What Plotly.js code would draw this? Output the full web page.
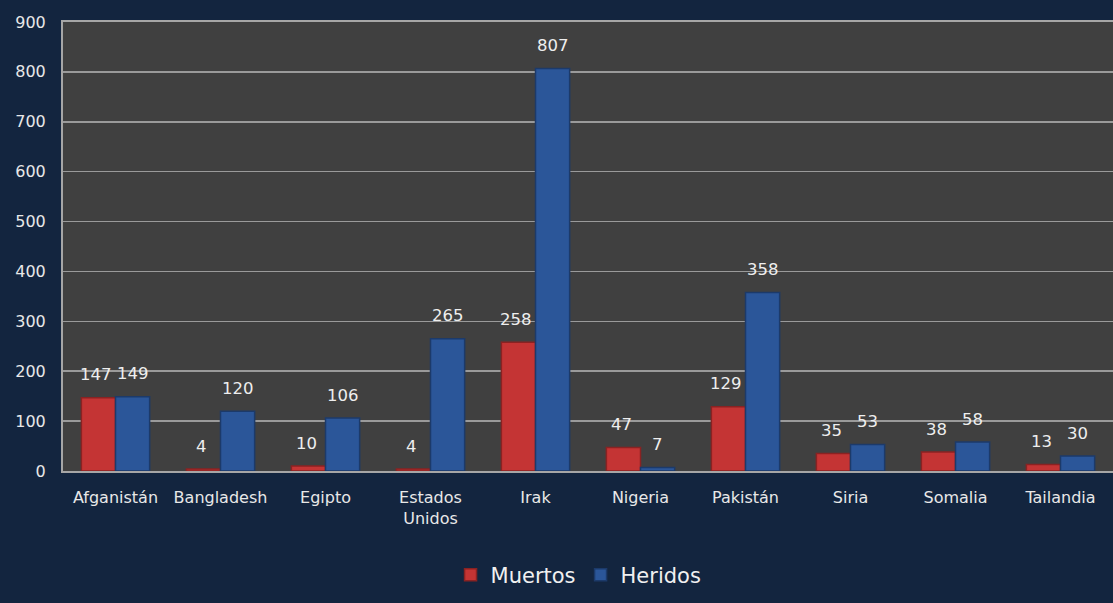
<!DOCTYPE html>
<html>
<head>
<meta charset="utf-8">
<script src="https://cdn.plot.ly/plotly-3.0.1.min.js"></script>
<style>html,body{margin:0;padding:0;background:#13253f;}</style>
</head>
<body>
<div id="chart" style="width:1113px;height:603px;"></div>
<script>
const categories = ["Afganistán","Bangladesh","Egipto","Estados<br>Unidos","Irak","Nigeria","Pakistán","Siria","Somalia","Tailandia"];
const muertos = [147,4,10,4,258,47,129,35,38,13];
const heridos = [149,120,106,265,807,7,358,53,58,30];
const yTicks = [0,100,200,300,400,500,600,700,800,900];

const W = 1113, H = 603;
const margin = {l:63, r:0, t:22, b:132};
const bargap = 0.35;
const catPx = (W - margin.l - margin.r) / categories.length;
const half = catPx * (1 - bargap) / 4;

const labelFont = {family:"DejaVu Sans", size:16.5, color:"#eeeeee"};
const traces = [
  {type:"bar", name:"Muertos", x:categories, y:muertos,
   marker:{color:"#c43434", line:{color:"#8a2222", width:1.5}}},
  {type:"bar", name:"Heridos", x:categories, y:heridos,
   marker:{color:"#2b5699", line:{color:"#1c3a6a", width:1.5}}}
];
const annotations = [];
[[muertos,-half-2],[heridos,half]].forEach(([vals,dx]) => {
  vals.forEach((v,i) => {
    annotations.push({x:categories[i], y:v, xref:"x", yref:"y", text:String(v),
      showarrow:false, xshift:dx, yshift:23, yanchor:"middle", font:labelFont});
  });
});
const layout = {
  width:W, height:H,
  paper_bgcolor:"#13253f", plot_bgcolor:"#404040",
  margin:margin,
  barmode:"group", bargap:bargap, bargroupgap:0,
  font:{family:"DejaVu Sans", color:"#e8e8e8", size:16},
  showlegend:true,
  annotations:annotations,
  legend:{orientation:"h", x:0.491, xanchor:"center", y:-0.232, yanchor:"middle",
          font:{size:21, color:"#f0f0f0", family:"DejaVu Sans"}, itemwidth:30, tracegroupgap:0},
  xaxis:{type:"category", showgrid:false, showline:true, linecolor:"#a6a6a6", linewidth:2,
         mirror:true, ticks:"outside", ticklen:11, tickcolor:"rgba(0,0,0,0)",
         tickfont:{size:16, color:"#e8e8e8"}},
  yaxis:{range:[0,900], tickvals:yTicks, ticktext:yTicks.map(String),
         showgrid:true, gridcolor:"#9a9a9a", gridwidth:1.5, zeroline:false,
         showline:true, linecolor:"#a6a6a6", linewidth:2, mirror:false,
         ticks:"outside", ticklen:12, tickcolor:"rgba(0,0,0,0)",
         tickfont:{size:16, color:"#e8e8e8"}}
};
Plotly.newPlot("chart", traces, layout, {displayModeBar:false, staticPlot:true});
</script>
</body>
</html>
